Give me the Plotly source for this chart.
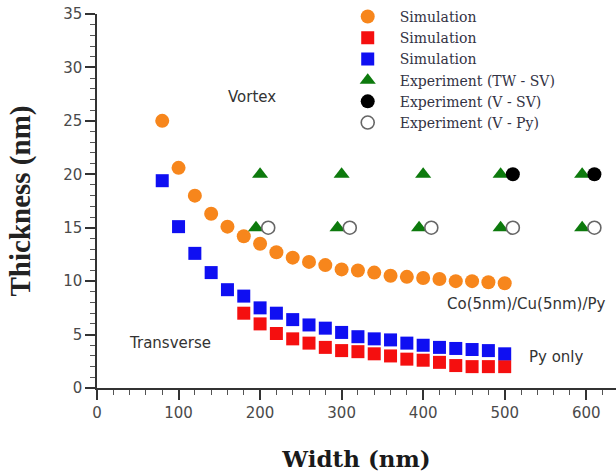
import plotly.graph_objects as go

# Simulated critical thickness vs strip width
width_sim = [80, 100, 120, 140, 160, 180, 200, 220, 240, 260, 280, 300,
             320, 340, 360, 380, 400, 420, 440, 460, 480, 500]
thick_cocu_py = [25.0, 20.6, 18.0, 16.3, 15.1, 14.2, 13.5, 12.7, 12.2, 11.8, 11.5, 11.1,
                 11.0, 10.8, 10.5, 10.4, 10.3, 10.2, 10.0, 10.0, 9.9, 9.8]
thick_py_blue = [19.4, 15.1, 12.6, 10.8, 9.2, 8.6, 7.5, 7.0, 6.4, 5.9, 5.6, 5.2,
                 4.8, 4.6, 4.5, 4.2, 4.0, 3.8, 3.7, 3.6, 3.5, 3.2]

width_red = [180, 200, 220, 240, 260, 280, 300, 320, 340, 360, 380, 400,
             420, 440, 460, 480, 500]
thick_py_red = [7.0, 6.0, 5.1, 4.6, 4.2, 3.8, 3.5, 3.4, 3.2, 3.0, 2.7, 2.6,
                2.4, 2.1, 2.0, 2.0, 2.0]

# Experimental observations
width_tw_sv = [200, 300, 400, 495, 595, 195, 295, 395, 495, 595]
thick_tw_sv = [20, 20, 20, 20, 20, 15, 15, 15, 15, 15]
width_v_sv = [510, 610]
thick_v_sv = [20, 20]
width_v_py = [210, 310, 410, 510, 610]
thick_v_py = [15, 15, 15, 15, 15]

fig = go.Figure()

fig.add_trace(go.Scatter(x=width_sim, y=thick_cocu_py, mode="markers", name="Simulation",
                         marker=dict(symbol="circle", size=14, color="#f7861c")))
fig.add_trace(go.Scatter(x=width_red, y=thick_py_red, mode="markers", name="Simulation",
                         marker=dict(symbol="square", size=13, color="#f50f0f")))
fig.add_trace(go.Scatter(x=width_sim, y=thick_py_blue, mode="markers", name="Simulation",
                         marker=dict(symbol="square", size=13, color="#0f0ff2")))
fig.add_trace(go.Scatter(x=width_tw_sv, y=thick_tw_sv, mode="markers", name="Experiment (TW - SV)",
                         marker=dict(symbol="triangle-up", size=14, color="#0d7a0d")))
fig.add_trace(go.Scatter(x=width_v_sv, y=thick_v_sv, mode="markers", name="Experiment (V - SV)",
                         marker=dict(symbol="circle", size=14, color="black")))
fig.add_trace(go.Scatter(x=width_v_py, y=thick_v_py, mode="markers", name="Experiment (V - Py)",
                         marker=dict(symbol="circle", size=13, color="white",
                                     line=dict(color="#666666", width=1.6))))

labels = [("Vortex", 190, 27.2), ("Transverse", 90, 4.2),
          ("Co(5nm)/Cu(5nm)/Py", 527, 7.9), ("Py only", 564, 2.9)]
for txt, lx, ly in labels:
    fig.add_annotation(x=lx, y=ly, xref="x", yref="y", text=txt, showarrow=False,
                       font=dict(family="DejaVu Sans", size=15, color="#333333"))

tick_font = dict(family="DejaVu Sans", size=15, color="#4a4a4a")

fig.update_xaxes(range=[0, 636.5], tickmode="array", tickvals=[0, 100, 200, 300, 400, 500, 600],
                 ticks="outside", ticklen=10, tickwidth=1.5, tickcolor="#333333",
                 showline=True, linecolor="#333333", linewidth=1.5,
                 showgrid=False, zeroline=False, tickfont=tick_font,
                 minor=dict(dtick=20, ticks="outside", ticklen=5, tickwidth=1.2, tickcolor="#555555"),
                 title=dict(text="<b>Width (nm)</b>", standoff=30,
                            font=dict(family="DejaVu Serif", size=23, color="#1a1a1a")))
fig.update_yaxes(range=[0, 35], tickmode="array", tickvals=[0, 5, 10, 15, 20, 25, 30, 35],
                 ticks="outside", ticklen=10, tickwidth=1.5, tickcolor="#333333",
                 showline=True, linecolor="#333333", linewidth=1.5,
                 showgrid=False, zeroline=False, tickfont=tick_font,
                 minor=dict(dtick=1, ticks="outside", ticklen=5, tickwidth=1.2, tickcolor="#555555"),
                 title=dict(text="<b>Thickness (nm)</b>", standoff=24,
                            font=dict(family="Liberation Serif", size=29, color="#222222")))

fig.update_layout(
    width=616, height=474,
    margin=dict(l=97, r=0, t=14, b=86, autoexpand=False),
    paper_bgcolor="white", plot_bgcolor="white",
    legend=dict(xref="container", yref="container", x=0.545, y=0.998,
                xanchor="left", yanchor="top", itemwidth=54,
                bgcolor="rgba(0,0,0,0)",
                font=dict(family="DejaVu Serif", size=14, color="#333344")),
)

fig.write_html("out.html")
